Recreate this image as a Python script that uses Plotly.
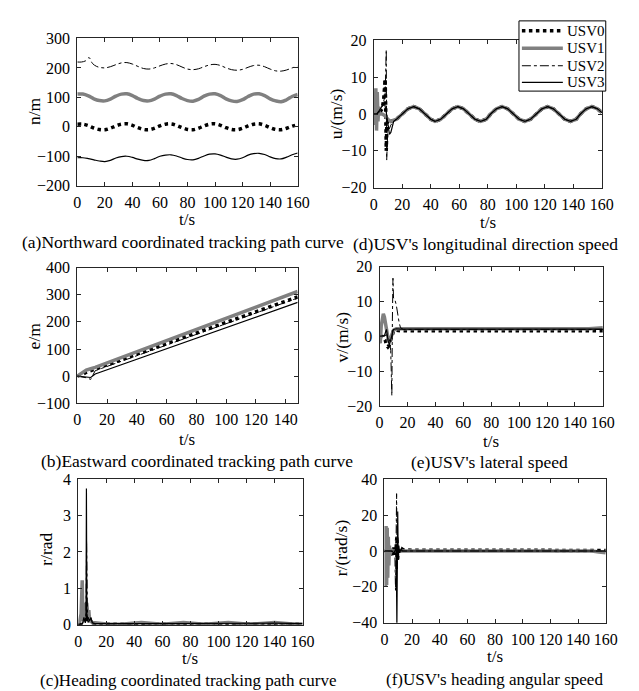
import plotly.graph_objects as go

W, H = 639, 691
FONT = "Liberation Serif"

# ---------------- data ----------------
series_names = ["USV0", "USV1", "USV2", "USV3"]

# (a) Northward n/m
a_t = [0, 4, 8, 12, 16, 20, 24, 28, 32, 36, 40, 44, 48, 52, 56, 60, 64, 68, 72, 76, 80,
       84, 88, 92, 96, 100, 104, 108, 112, 116, 120, 124, 128, 132, 136, 140, 144, 148, 152, 156, 160]
a_usv0 = [9, 9, 4, -4, -9, -10, -5, 3, 9, 10, 5, -3, -9, -10, -5, 3, 9, 10, 5, -3, -9,
          -10, -5, 3, 9, 10, 5, -3, -9, -10, -5, 3, 9, 10, 5, -3, -9, -10, -5, 2, 7]
a_usv1 = [111, 111, 105, 95, 89, 88, 94, 104, 111, 112, 106, 96, 89, 88, 94, 104, 111, 112, 106, 96, 89,
          87, 93, 104, 111, 112, 106, 95, 88, 86, 92, 103, 111, 112, 106, 95, 88, 85, 92, 103, 110]
a_t2 = [0, 3, 6, 8.5, 11, 14, 17, 20, 24, 28, 32, 36, 40, 44, 48, 52, 56, 60, 64, 68, 72, 76, 80,
        84, 88, 92, 96, 100, 104, 108, 112, 116, 120, 124, 128, 132, 136, 140, 144, 148, 152, 156, 160]
a_usv2 = [220, 220, 224, 235, 215, 205, 201, 200, 204, 211, 217, 218, 213, 205, 198, 196, 200, 207, 213, 215, 211, 203, 196,
          194, 197, 204, 210, 212, 208, 200, 194, 192, 195, 202, 208, 209, 204, 196, 190, 189, 193, 200, 206]
a_usv3 = [-105, -105, -108, -112, -116, -118, -114, -106, -101, -100, -104, -110, -114, -114, -108, -100, -96, -95, -99, -106, -111,
          -112, -107, -99, -93, -92, -96, -103, -109, -110, -105, -96, -91, -90, -94, -102, -108, -109, -103, -95, -89]

# (b) Eastward e/m
b_t = [0, 3, 6, 9, 12, 148]
b_usv0 = [0, 5, 14, 20, 26, 292]
b_usv1 = [0, 10, 22, 27, 32, 312]
b_usv2 = [0, -2, -6, -12, 20, 288]
b_usv3 = [0, -2, -4, -5, 8, 272]

# (c) Heading r/rad
c_t0 = [0, 2, 4, 5, 5.5, 6, 6.5, 7, 8, 10, 12, 160]
c_usv0 = [0, 0.02, 0.1, 0.2, 0.6, 0.15, 0.1, 0.2, 0.05, 0.02, 0.01, 0.01]
c_t1 = [0, 1, 2, 2.8, 3.3, 4, 5, 6, 6.7, 7.5, 8, 9, 10, 12, 20, 30, 45, 60, 75, 90, 107, 122, 140, 155, 160]
c_usv1 = [0, 0.1, 0.3, 1.22, 0.1, 0.3, 0.55, 0.6, 0.3, 0.4, 0.15, 0.1, 0.05, 0.05, 0.02, 0.01, 0.06, 0.01, 0.06, 0.01, 0.06, 0.01, 0.06, 0.01, 0.02]
c_t2 = [0, 3, 4.5, 5.5, 5.9, 6.2, 6.6, 7.2, 8, 9, 10, 12, 160]
c_usv2 = [0, 0.05, 0.1, 0.2, 2.3, 0.3, 0.1, 0.2, 0.1, 0.2, 0.05, 0.02, 0.02]
c_t3 = [0, 3, 4, 5, 5.5, 5.8, 6.1, 7, 8, 9, 10, 12, 40, 75, 110, 140, 160]
c_usv3 = [0, 0.02, 0.2, 0.05, 0.2, 3.75, 0.15, 0.2, 0.1, 0.2, 0.05, 0.03, 0.03, 0.04, 0.03, 0.04, 0.03]

# (d) longitudinal speed u
d_ts = [16, 20, 24, 28, 32, 36, 40, 43, 47, 51, 55, 59, 63, 67, 71, 75, 79, 82, 86, 90, 94, 98, 102, 106,
        110, 114, 118, 122, 126, 130, 134, 138, 142, 145, 149, 153, 157, 160]
d_steady = [-1.4, 0, 1.4, 2, 1.4, 0, -1.4, -2, -1.4, 0, 1.4, 2, 1.4, 0, -1.4, -2, -1.4, 0, 1.4, 2, 1.4, 0, -1.4, -2,
            -1.4, 0, 1.4, 2, 1.4, 0, -1.4, -2, -1.4, 0, 1.4, 2, 1.4, 0.4]
d_t0 = [0, 2, 4, 6, 7, 8, 8.4, 8.8, 9.2, 10, 12, 14]
d_usv0 = [0, 0, 0.3, 1.5, 4, 9.5, 2, -10, -3, -1.5, -2, -1.8]
d_t1 = [0, 0.5, 1, 1.5, 2, 2.5, 3, 3.5, 4, 6, 8, 10, 12, 14]
d_usv1 = [0, 5, -3, 7, -4.5, 6, -2, 2, 0, 0, -0.5, -1.5, -2, -1.8]
d_t2 = [0, 2, 4, 6, 8, 8.8, 9.1, 9.5, 10, 11, 12, 14]
d_usv2 = [0, 0, 0.5, 2, 5, 17.5, -12.5, -5, -3, -4, -3, -2]
d_t3 = [0, 2, 4, 6, 7.5, 9, 10, 11, 12, 13, 14]
d_usv3 = [0, 0, 1, 2.5, 3.2, 0, -3, -5.5, -5, -3, -2]

# (e) lateral speed v
e_t0 = [0, 2, 4, 5, 6, 7, 8, 9, 10, 12, 15, 160]
e_usv0 = [0, 0, -1, -2.5, -3, -2.5, -1, 0.5, 1.5, 1.8, 1.6, 1.6]
e_t1 = [0, 0.5, 1.2, 2, 2.7, 3.5, 4.5, 5.5, 6.5, 7.5, 8.5, 10, 12, 16, 150, 160]
e_usv1 = [2, -2, 3, 5.5, 6.5, 5.5, 3, 0.5, -1.5, -1, 0.5, 1.8, 2.2, 2.2, 2.2, 2.5]
e_t2 = [0, 3, 5, 7, 8, 8.8, 9.2, 9.6, 10, 11, 12, 13, 14, 15, 17, 160]
e_usv2 = [0, 0, 0.5, -1, -4, -17, 5, 16.7, 11, 10.5, 9, 6, 4, 2.5, 2, 2]
e_t3 = [0, 2, 3.5, 4.5, 5, 6, 7, 8, 9, 10, 12, 15, 160]
e_usv3 = [0, 0, 0.2, 1.5, 2, -1, -2.5, -1, 1, 2, 2.2, 2.1, 2.1]

# (f) heading angular speed r
f_t0 = [0, 4, 6, 7, 8, 9, 9.5, 10, 11, 12, 13, 14, 160]
f_usv0 = [0, 0, -2, 2, -3, 8, -5, 1, 2, -1, 1, 0.5, 0.3]
f_t1 = [0, 0.4, 0.8, 1.2, 1.6, 2, 2.4, 2.8, 3.2, 3.6, 4, 5, 6, 8, 10, 15, 150, 155, 160]
f_usv1 = [0, 14, -20, 14, -19, 13, -15, 8, -8, 3, -2, 0.5, 0, 0, 0, 0, 0, -0.5, -1]
f_t2 = [0, 6, 7.5, 8, 8.4, 8.8, 9.2, 9.6, 10, 11, 12, 160]
f_usv2 = [0, 0, 0.5, -22, 5, 32, -10, 3, 0, 0.5, 0, 0]
f_t3 = [0, 5, 7, 8.5, 9, 9.6, 10, 10.4, 11, 12, 13, 160]
f_usv3 = [0, 0, -1, 2, -42, 22, -5, 3, -1, 1, 0, 0]

# ---------------- styles ----------------
styles = [
    dict(color="black", width=3.5, dash="dot"),
    dict(color="#808080", width=3.5, dash="solid"),
    dict(color="black", width=1, dash="dashdot"),
    dict(color="black", width=1.2, dash="solid"),
]

def fx(px):
    return px / W

def fy(py):
    return 1 - py / H

fig = go.Figure()

def add(x, y, i, ax, shape="linear"):
    s = "" if ax == 1 else str(ax)
    fig.add_trace(go.Scatter(
        x=x, y=y, mode="lines", name=series_names[i], line=dict(shape=shape, **styles[i]),
        xaxis="x" + s, yaxis="y" + s, showlegend=False, hoverinfo="skip"))

# (a) axis 1
add(a_t, a_usv0, 0, 1, shape="spline")
add(a_t, a_usv1, 1, 1, shape="spline")
add(a_t2, a_usv2, 2, 1, shape="spline")
add(a_t, a_usv3, 3, 1, shape="spline")
# (d) axis 2
add(d_t0 + d_ts, d_usv0 + d_steady, 0, 2)
add(d_t1 + d_ts, d_usv1 + d_steady, 1, 2)
add(d_t2 + d_ts, d_usv2 + d_steady, 2, 2)
add(d_t3 + d_ts, d_usv3 + d_steady, 3, 2)
# (b) axis 3
add(b_t, b_usv0, 0, 3)
add(b_t, b_usv1, 1, 3)
add(b_t, b_usv2, 2, 3)
add(b_t, b_usv3, 3, 3)
# (e) axis 4
add(e_t0, e_usv0, 0, 4)
add(e_t1, e_usv1, 1, 4)
add(e_t2, e_usv2, 2, 4)
add(e_t3, e_usv3, 3, 4)
# (c) axis 5
add(c_t0, c_usv0, 0, 5)
add(c_t1, c_usv1, 1, 5)
add(c_t2, c_usv2, 2, 5)
add(c_t3, c_usv3, 3, 5)
# (f) axis 6
add(f_t0, f_usv0, 0, 6)
add(f_t1, f_usv1, 1, 6)
add(f_t2, f_usv2, 2, 6)
add(f_t3, f_usv3, 3, 6)

frame = "#262626"
tickfont = dict(family=FONT, size=16, color="black")

def xax(l, r, rng, dtick, anchor):
    return dict(domain=[fx(l), fx(r)], range=rng, dtick=dtick, tick0=0, anchor=anchor,
                showline=True, linecolor=frame, linewidth=1, mirror="ticks",
                ticks="inside", ticklen=4, tickcolor=frame, showgrid=False, zeroline=False,
                tickfont=tickfont, ticklabelstandoff=2)

def yax(t, b, rng, dtick, anchor):
    return dict(domain=[fy(b), fy(t)], range=rng, dtick=dtick, tick0=0, anchor=anchor,
                showline=True, linecolor=frame, linewidth=1, mirror="ticks",
                ticks="inside", ticklen=4, tickcolor=frame, showgrid=False, zeroline=False,
                tickfont=tickfont, ticklabelstandoff=3)

fig.update_layout(
    width=W, height=H, margin=dict(l=0, r=0, t=0, b=0),
    paper_bgcolor="white", plot_bgcolor="white",
    font=dict(family=FONT, color="black"),
    xaxis=xax(67, 293, [0, 160], 20, "y"), yaxis=yax(23, 174, [-200, 300], 100, "x"),
    xaxis2=xax(371, 605, [0, 160], 20, "y2"), yaxis2=yax(25, 176, [-20, 20], 10, "x2"),
    xaxis3=xax(67, 293, [0, 148], 20, "y3"), yaxis3=yax(258, 397, [-100, 400], 100, "x3"),
    xaxis4=xax(377, 606, [0, 160], 20, "y4"), yaxis4=yax(257, 400, [-20, 20], 10, "x4"),
    xaxis5=xax(68, 298, [0, 160], 20, "y5"), yaxis5=yax(475, 624, [0, 4], 1, "x5"),
    xaxis6=xax(382, 609, [0, 160], 20, "y6"), yaxis6=yax(475, 622, [-40, 40], 20, "x6"),
    showlegend=False,
)

anns = []
def txt(x, y, s, size=17, angle=0, anchor="center"):
    anns.append(dict(x=fx(x), y=fy(y), xref="paper", yref="paper", text=s, showarrow=False,
                     xanchor=anchor, yanchor="middle", textangle=angle,
                     font=dict(family=FONT, size=size, color="black")))

# x titles
txt(180, 209, "t/s"); txt(488, 211.5, "t/s")
txt(180, 434, "t/s"); txt(491, 436, "t/s")
txt(183, 659, "t/s"); txt(495, 657, "t/s")
# y titles
txt(22, 97, "n/m", size=17.5, angle=-90)
txt(332, 100, "u/(m/s)", size=17.5, angle=-90)
txt(22, 328, "e/m", size=17.5, angle=-90)
txt(338, 329, "v/(m/s)", size=17.5, angle=-90)
txt(34, 547, "r/rad", size=17.5, angle=-90)
txt(337, 545, "r/(rad/s)", size=17.5, angle=-90)
# captions
txt(175, 232, "(a)Northward coordinated tracking path curve", size=17.5)
txt(486, 234, "(d)USV's longitudinal direction speed", size=17.5)
txt(190, 456, "(b)Eastward coordinated tracking path curve", size=17.5)
txt(490, 457, "(e)USV's lateral speed", size=17.5)
txt(181, 681, "(c)Heading coordinated tracking path curve")
txt(495, 680, "(f)USV's heading angular speed")

# ---- legend box (drawn like the reference's boxed legend) ----
shapes = [dict(type="rect", xref="paper", yref="paper", x0=fx(520), x1=fx(609), y0=fy(77), y1=fy(5),
               line=dict(color="black", width=1), fillcolor="white", layer="above")]
rows = [15, 33, 51, 68]
for i, ry in enumerate(rows):
    st = styles[i]
    shapes.append(dict(type="line", xref="paper", yref="paper", x0=fx(523), x1=fx(565), y0=fy(ry), y1=fy(ry),
                       line=dict(color=st["color"], width=st["width"], dash=st["dash"]), layer="above"))
    txt(567, ry, series_names[i], size=15, anchor="left")

fig.update_layout(annotations=anns, shapes=shapes)

fig.write_html("out.html")
